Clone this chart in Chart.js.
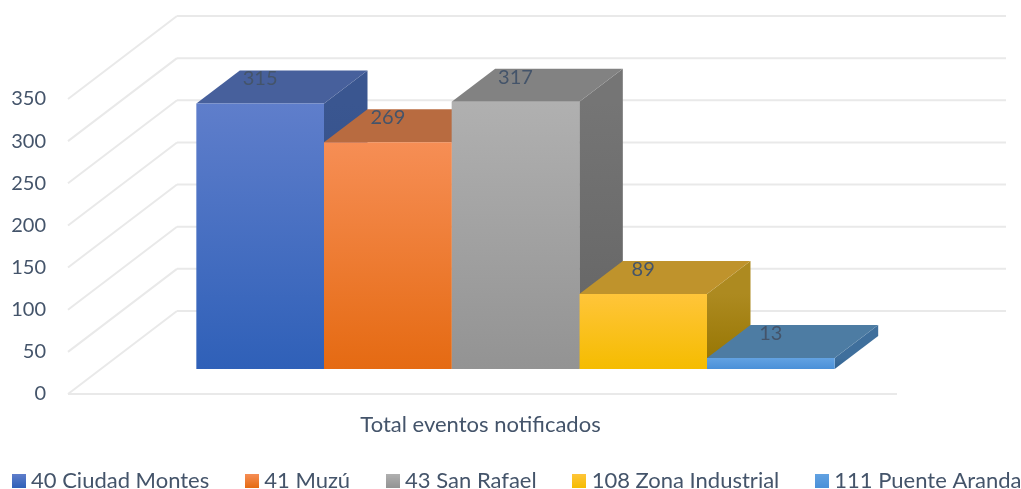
<!DOCTYPE html>
<html><head><meta charset="utf-8">
<script src="https://cdn.jsdelivr.net/npm/chart.js@4"></script>
<style>
html,body{margin:0;padding:0;background:#fff;overflow:hidden;width:1021px;height:489px}
#wrap{position:absolute;left:-24px;top:0;width:1100px;height:502px}
</style></head><body>
<div id="wrap"><canvas id="c" width="1100" height="502"></canvas></div>
<script>
const categories = ['Total eventos notificados'];
const seriesNames = ['40 Ciudad Montes','41 Muzú','43 San Rafael','108 Zona Industrial','111 Puente Aranda'];
const seriesValues = [315,269,317,89,13];
const tickValues = [0,50,100,150,200,250,300,350];
const frontTop = ['#5f7ecb','#f68e55','#b0b0b0','#ffc53a','#62a2e2'];
const frontBottom = ['#2f60b8','#e56a12','#939393','#f5bc00','#4a90d8'];
const topFaces = ['#47609c','#b86b40','#828282','#bf932c','#4d7ca3'];
const sideTop = ['#3a5690','#a85c30','#757575','#ad8a20','#3f6f9c'];
const sideBottom = ['#2c4a85','#9a4e20','#636363','#957400','#2f6090'];
const textColor = '#44546a', gridColor = '#e9e9e9', fontName = 'Lato';
// projection offsets of the pseudo-3D box
const wall = {dx:109, dy:-83}, shift = {dx:33, dy:-25}, depth = {dx:43.5, dy:-33};

function swatch(i){
  const s=document.createElement('canvas'); s.width=14; s.height=14;
  const x=s.getContext('2d'), g=x.createLinearGradient(0,0,0,14);
  g.addColorStop(0,frontTop[i]); g.addColorStop(1,frontBottom[i]);
  x.fillStyle=g; x.fillRect(0,0,14,14); return s;
}
const swatches = seriesNames.map((_,i)=>swatch(i));

function line(ctx,x1,y1,x2,y2){ctx.beginPath();ctx.moveTo(x1,y1);ctx.lineTo(x2,y2);ctx.stroke();}
function poly(ctx,pts,fill){ctx.fillStyle=fill;ctx.beginPath();pts.forEach((p,i)=>i?ctx.lineTo(p[0],p[1]):ctx.moveTo(p[0],p[1]));ctx.closePath();ctx.fill();}

const box3d = {
  id:'box3d',
  afterLayout(chart){ chart.scales.x.bottom += 30; }, // the category label hangs below the axis box
  beforeDatasetsDraw(chart){
    const {ctx,chartArea:a,scales:{y}} = chart;
    ctx.save();
    ctx.strokeStyle=gridColor; ctx.lineWidth=2;
    tickValues.forEach(v=>{
      const p=y.getPixelForValue(v);
      line(ctx,a.left,p,a.left+wall.dx,p+wall.dy);
      line(ctx,a.left+wall.dx,p+wall.dy,a.right+wall.dx,p+wall.dy);
    });
    line(ctx,a.left,y.getPixelForValue(0),a.right,y.getPixelForValue(0));
    ctx.translate(shift.dx,shift.dy);
    seriesNames.forEach((_,i)=>{
      const el=chart.getDatasetMeta(i).data[0];
      const l=el.x-el.width/2, r=el.x+el.width/2, t=el.y, b=el.base;
      const g=ctx.createLinearGradient(0,t,0,b);
      g.addColorStop(0,sideTop[i]); g.addColorStop(1,sideBottom[i]);
      poly(ctx,[[r,t],[r+depth.dx,t+depth.dy],[r+depth.dx,b+depth.dy],[r,b]],g);
      poly(ctx,[[l,t],[l+depth.dx,t+depth.dy],[r+depth.dx,t+depth.dy],[r,t]],topFaces[i]);
    });
  },
  afterDatasetsDraw(chart){
    const {ctx}=chart;
    ctx.font='20px '+fontName; ctx.fillStyle=textColor; ctx.textAlign='center'; ctx.textBaseline='middle';
    seriesNames.forEach((_,i)=>{
      const el=chart.getDatasetMeta(i).data[0];
      ctx.fillText(String(seriesValues[i]),el.x,el.y+depth.dy*0.75);
    });
    ctx.restore();
  }
};

new Chart(document.getElementById('c'),{
  type:'bar',
  plugins:[box3d],
  data:{labels:categories,datasets:seriesNames.map((n,i)=>({
    label:n,data:[seriesValues[i]],borderWidth:0,clip:false,
    backgroundColor(c){
      const ch=c.chart; if(!ch.chartArea) return frontTop[i];
      const y=ch.scales.y, g=ch.ctx.createLinearGradient(0,y.getPixelForValue(seriesValues[i]),0,y.getPixelForValue(0));
      g.addColorStop(0,frontTop[i]); g.addColorStop(1,frontBottom[i]); return g;
    }
  }))},
  options:{
    responsive:false,animation:false,devicePixelRatio:1,
    layout:{padding:{top:99,left:0,right:0,bottom:0}},
    datasets:{bar:{categoryPercentage:0.77,barPercentage:1}},
    font:{family:fontName,size:20},
    scales:{
      x:{grid:{display:false},border:{display:false},
         ticks:{color:textColor,font:{family:fontName,size:22},padding:10,labelOffset:-2,maxRotation:0},
         afterFit(s){s.height=35;}},
      y:{min:0,max:350,grid:{display:false},border:{display:false},
         afterBuildTicks(s){s.ticks=tickValues.map(v=>({value:v}));},
         ticks:{color:textColor,font:{family:fontName,size:20},padding:14},
         afterFit(s){s.width=92;}},
      pad:{position:'right',display:true,grid:{display:false},border:{display:false},ticks:{display:false},
         afterFit(s){s.width=179;}}
    },
    plugins:{
      tooltip:{enabled:false},
      legend:{position:'bottom',align:'start',
        labels:{color:textColor,font:{family:fontName,size:22},padding:41,usePointStyle:true,pointStyleWidth:3,
          generateLabels(){return seriesNames.map((n,i)=>({text:n,datasetIndex:i,pointStyle:swatches[i],fontColor:textColor,lineWidth:0,hidden:false}));}
        }}
    }
  }
});
</script></body></html>
